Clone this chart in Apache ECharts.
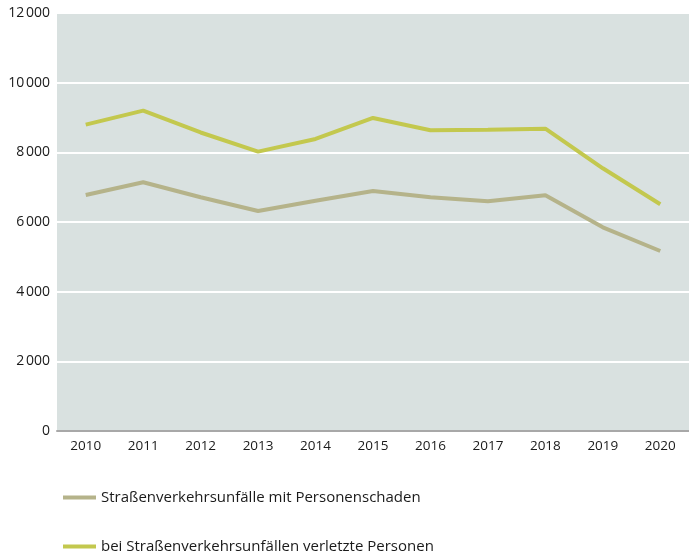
<!DOCTYPE html>
<html>
<head>
<meta charset="utf-8">
<script src="https://cdn.jsdelivr.net/npm/echarts@6/dist/echarts.min.js"></script>
<style>html,body{margin:0;padding:0;background:#fff}#c{width:689px;height:559px}</style>
</head>
<body>
<div id="c"></div>
<script>
var categories = ['2010','2011','2012','2013','2014','2015','2016','2017','2018','2019','2020'];
var unfaelle = [6776, 7140, 6709, 6316, 6612, 6890, 6709, 6594, 6766, 5848, 5168];
var verletzte = [8795, 9196, 8570, 8020, 8383, 8987, 8632, 8651, 8680, 7542, 6509];
var seriesNames = ['Straßenverkehrsunfälle mit Personenschaden', 'bei Straßenverkehrsunfällen verletzte Personen'];
var FONT = 'Source Sans Pro, Open Sans, Noto Sans, sans-serif';
var chart = echarts.init(document.getElementById('c'));
chart.setOption({
  animation: false,
  textStyle: {fontFamily: FONT},
  grid: {left: 57, top: 13, bottom: 128, right: -9, show: true, backgroundColor: '#d9e1e0', borderWidth: 0, containLabel: false},
  legend: {
    orient: 'vertical', left: 58, top: 485, itemGap: 34,
    itemWidth: 33, itemHeight: 4, icon: 'rect',
    textStyle: {fontSize: 15, color: '#1a1a1a', fontFamily: FONT, padding: [0,0,0,0]},
    data: seriesNames
  },
  xAxis: {
    type: 'category', data: categories, boundaryGap: true,
    axisLine: {lineStyle: {color: '#a8a8a8', width: 2}},
    axisTick: {show: false},
    axisLabel: {color: '#1a1a1a', fontSize: 13.5, margin: 8, fontFamily: FONT}
  },
  yAxis: {
    type: 'value', min: 0, max: 12000, interval: 2000,
    axisLine: {show: false}, axisTick: {show: false},
    splitLine: {lineStyle: {color: '#ffffff', width: 2}},
    axisLabel: {color: '#1a1a1a', fontSize: 14, margin: 7, fontFamily: FONT,
      formatter: function(v){ return v >= 1000 ? Math.floor(v/1000) + '\u202F' + String(v%1000).padStart(3,'0') : String(v); }}
  },
  series: [
    {name: seriesNames[0], type: 'line', data: unfaelle, symbol: 'none', lineStyle: {color: '#b5b38a', width: 4}, itemStyle: {color: '#b5b38a'}},
    {name: seriesNames[1], type: 'line', data: verletzte, symbol: 'none', lineStyle: {color: '#c3c84e', width: 4}, itemStyle: {color: '#c3c84e'}}
  ]
});
</script>
</body>
</html>
